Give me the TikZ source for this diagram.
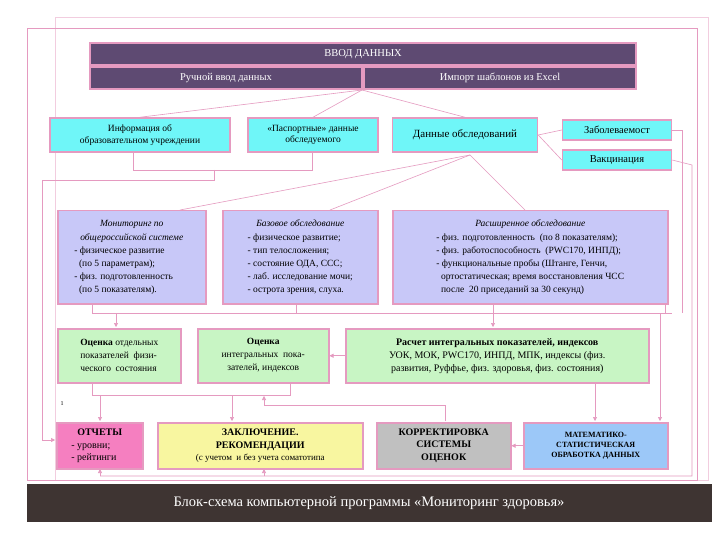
\documentclass[tikz,border=0pt]{standalone}
\usepackage{fontspec}
\setmainfont{Liberation Serif}
\usetikzlibrary{arrows.meta}
\definecolor{pinkl}{HTML}{E59AC0}
\definecolor{purp}{HTML}{5E4A72}
\definecolor{cyanb}{HTML}{6FF6F8}
\definecolor{lav}{HTML}{C8C8F8}
\definecolor{grn}{HTML}{C8F5C4}
\definecolor{pinkb}{HTML}{F57FC0}
\definecolor{yel}{HTML}{F8F6A0}
\definecolor{gry}{HTML}{C0C0C0}
\definecolor{blu}{HTML}{9CC8F8}
\definecolor{banner}{HTML}{3E3432}
\begin{document}
\begin{tikzpicture}[x=1pt,y=-1pt,
  bx/.style={draw=pinkl,line width=1.5pt,inner sep=2pt,align=center,font=\fontsize{9.5}{11.5}\selectfont},
  lv/.style={bx,fill=lav,minimum height=93pt,anchor=north west,font=\fontsize{9.5}{13.2}\selectfont},
  ln/.style={draw=pinkl,line width=0.6pt},
  ar/.style={ln,-{Triangle[length=4pt,width=4pt]}}]
\useasboundingbox (0,0) rectangle (720,540);
\fill[white] (0,0) rectangle (720,540);
\draw[pinkl!50,line width=0.4pt] (55,17) rectangle (708,480);
\draw[pinkl,line width=0.6pt] (27,28) rectangle (697,480);
% header
\node[bx,fill=purp,text=white,minimum width=546pt,minimum height=22pt,font=\fontsize{10.5}{12}\selectfont] (top) at (363,54) {ВВОД ДАННЫХ};
\node[bx,fill=purp,text=white,minimum width=272pt,minimum height=22pt,font=\fontsize{10.5}{12}\selectfont] (man) at (226,78) {Ручной ввод данных};
\node[bx,fill=purp,text=white,minimum width=272pt,minimum height=22pt,font=\fontsize{10.5}{12}\selectfont] (imp) at (500,78) {Импорт шаблонов из Excel};
\coordinate (hub) at (362,90);
% cyan
\node[bx,fill=cyanb,minimum width=180pt,minimum height=34pt] (inf) at (140,135) {Информация об\\образовательном учреждении};
\node[bx,fill=cyanb,minimum width=130pt,minimum height=34pt] (pas) at (313,135) {«Паспортные» данные\\обследуемого};
\node[bx,fill=cyanb,minimum width=145pt,minimum height=34pt,font=\fontsize{11}{12}\selectfont] (dan) at (465,135) {Данные обследований};
\node[bx,fill=cyanb,minimum width=109pt,minimum height=20pt,font=\fontsize{10.5}{11}\selectfont] (zab) at (617,130) {Заболеваемост};
\node[bx,fill=cyanb,minimum width=109pt,minimum height=20pt,font=\fontsize{10.5}{11}\selectfont] (vak) at (617,160) {Вакцинация};
\draw[ln] (hub) -- (inf.north);
\draw[ln] (hub) -- (pas.north);
\draw[ln] (hub) -- (dan.north);
\draw[ln] (dan.east) -- (zab.west);
\draw[ln] (dan.east) -- (vak.west);
% lavender
\node[lv,minimum width=148pt] (mon) at (57,210) {\begin{tabular}{@{}l@{}}\multicolumn{1}{c}{\itshape Мониторинг по}\\ \multicolumn{1}{c}{\itshape общероссийской системе}\\- физическое развитие\\ \ \ (по 5 параметрам);\\- физ. подготовленность\\ \ \ (по 5 показателям).\end{tabular}};
\node[lv,minimum width=155pt] (baz) at (222,210) {\begin{tabular}{@{}l@{}}\multicolumn{1}{c}{\itshape Базовое обследование}\\- физическое развитие;\\- тип телосложения;\\- состояние ОДА, ССС;\\- лаб. исследование мочи;\\- острота зрения, слуха.\\\end{tabular}};
\node[lv,minimum width=275pt] (ras) at (392,210) {\begin{tabular}{@{}l@{}}\multicolumn{1}{c}{\itshape Расширенное обследование}\\- физ. подготовленность \ (по 8 показателям);\\- физ. работоспособность \ (PWC170, ИНПД);\\- функциональные пробы (Штанге, Генчи,\\ \ \ ортостатическая; время восстановления ЧСС\\ \ \ после \ 20 приседаний за 30 секунд)\\\end{tabular}};
\coordinate (dh) at (470,155);
\draw[ln] (dh) -- (180,210);
\draw[ln] (dh) -- (330,210);
\draw[ln] (dh) -- (525,210);
% bracket to reports
\coordinate (b1) at (133,170); \coordinate (b2) at (312,170);
\draw[ln] (133,152) -- (b1) -- (b2) -- (312,152);
\coordinate (b3) at (214,180); \coordinate (b4) at (42,180);
% green
\node[bx,fill=grn,minimum width=123pt,minimum height=54pt,anchor=north west,align=left,font=\fontsize{9.5}{13}\selectfont] (g1) at (57,328) {\textbf{Оценка} отдельных\\показателей \ физи-\\ческого \ состояния};
\node[bx,fill=grn,minimum width=131pt,minimum height=54pt,anchor=north west,font=\fontsize{9.5}{13}\selectfont] (g2) at (197,328) {\textbf{Оценка}\\интегральных \ пока-\\зателей, индексов};
\node[bx,fill=grn,minimum width=303pt,minimum height=54pt,anchor=north west,font=\fontsize{10}{13}\selectfont] (g3) at (345,328) {\textbf{Расчет интегральных показателей, индексов}\\УОК, МОК, PWC170, ИНПД, МПК, индексы (физ.\\развития, Руффье, физ. здоровья, физ. состояния)};
\draw[ln] (92,303) -- (92,313) -- (672,313);
\draw[ln] (296,303) -- (296,313);
\draw[ln] (665,303) -- (665,313);
\draw[ar] (116,313) -- (116,327);
\draw[ar] (493,303) -- (493,327);
\draw[ar] (g3.west) -- (g2.east);
% bottom
\node[bx,fill=pinkb,minimum width=86pt,minimum height=46pt,anchor=north west,align=left,font=\fontsize{10}{12.5}\selectfont] (otc) at (56,422) {\begin{tabular}{@{}l@{}}\multicolumn{1}{c}{\textbf{ОТЧЕТЫ}}\\- уровни;\\- рейтинги\end{tabular}};
\node[bx,fill=yel,minimum width=205pt,minimum height=46pt,anchor=north west,font=\fontsize{10}{12.5}\selectfont] (zak) at (157,422) {\textbf{ЗАКЛЮЧЕНИЕ.}\\\textbf{РЕКОМЕНДАЦИИ}\\{\fontsize{9}{11}\selectfont(с учетом \ и без учета соматотипа}};
\node[bx,fill=gry,minimum width=134pt,minimum height=46pt,anchor=north west,font=\fontsize{10}{12.5}\selectfont] (kor) at (376,422) {\textbf{КОРРЕКТИРОВКА}\\\textbf{СИСТЕМЫ}\\\textbf{ОЦЕНОК}};
\node[bx,fill=blu,minimum width=144pt,minimum height=46pt,anchor=north west,font=\fontsize{8}{10}\selectfont] (mat) at (523,422) {\textbf{МАТЕМАТИКО-}\\\textbf{СТАТИСТИЧЕСКАЯ}\\\textbf{ОБРАБОТКА ДАННЫХ}};
\node[font=\fontsize{6}{7}\selectfont,inner sep=0pt] (one) at (62,404) {1};
\draw[ar] (214,170) -- (b3) -- (b4) -- (42,440) -- (55,440);
\draw[ln] (92,382) -- (92,395) -- (290,395) -- (290,382);
\draw[ar] (100,395) -- (100,421);
\draw[ar] (232,395) -- (232,421);
\draw[ar] (445,421) -- (445,405) -- (264,405) -- (264,396);
\draw[ar] (595,382) -- (595,421);
\draw[ar] (660,313) -- (660,421);
\draw[ar] (mat.west) -- (kor.east);
\draw[ln] (zab.east) -- (682,130) -- (682,313);
\draw[ln] (vak.east) -- (692,165) -- (692,476) -- (100,476);
\draw[ar] (100,476) -- (100,469);
\draw[ar] (264,476) -- (264,469);
% banner
\fill[banner] (27,484) rectangle (712,522);
\node[text=white,font=\fontsize{14.5}{16}\selectfont] (ban) at (369,503) {Блок-схема компьютерной программы «Мониторинг здоровья»};
\end{tikzpicture}
\end{document}
